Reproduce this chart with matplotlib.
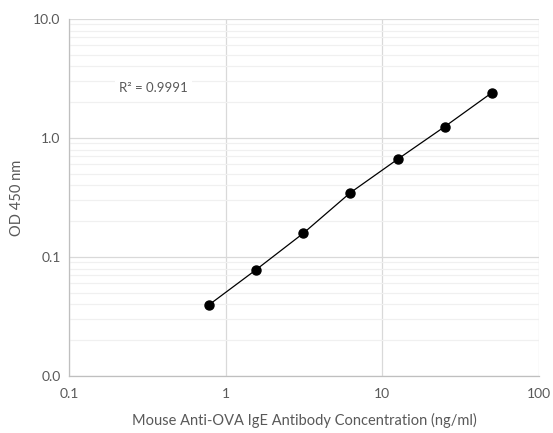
import matplotlib
matplotlib.use("Agg")
import matplotlib.pyplot as plt
from matplotlib.ticker import FixedLocator, FixedFormatter, NullFormatter
import numpy as np

# standard curve
conc_ng_ml = [0.78, 1.56, 3.125, 6.25, 12.5, 25, 50]
od_450 = [0.0395, 0.078, 0.158, 0.347, 0.662, 1.245, 2.40]
r_squared = "R² = 0.9991"

x_ticks = [0.1, 1, 10, 100]
x_labels = ["0.1", "1", "10", "100"]
y_ticks = [0.01, 0.1, 1, 10]
y_labels = ["0.0", "0.1", "1.0", "10.0"]

TEXT = "#595959"
plt.rcParams["font.family"] = ["Lato", "DejaVu Sans"]

fig = plt.figure(figsize=(5.53, 4.33), dpi=100)
ax = fig.add_axes([69 / 553, 1 - 376 / 433, 470 / 553, 357 / 433])
ax.set_xscale("log")
ax.set_yscale("log")
ax.set_xlim(0.1, 100)
ax.set_ylim(0.01, 10)

ax.xaxis.set_major_locator(FixedLocator(x_ticks))
ax.xaxis.set_major_formatter(FixedFormatter(x_labels))
ax.xaxis.set_minor_formatter(NullFormatter())
ax.xaxis.set_minor_locator(FixedLocator([]))
ax.yaxis.set_major_locator(FixedLocator(y_ticks))
ax.yaxis.set_major_formatter(FixedFormatter(y_labels))
minor_y = [m * d for d in (0.01, 0.1, 1) for m in range(2, 10)]
ax.yaxis.set_minor_locator(FixedLocator(minor_y))
ax.yaxis.set_minor_formatter(NullFormatter())

ax.grid(True, which="major", color="#d9d9d9", linewidth=0.9)
ax.grid(True, which="minor", axis="y", color="#f0f0f0", linewidth=0.9)
ax.set_axisbelow(True)
for s in ("top", "right"):
    ax.spines[s].set_visible(False)
for s in ("left", "bottom"):
    ax.spines[s].set_color("#bfbfbf")
    ax.spines[s].set_linewidth(0.9)
ax.tick_params(which="both", length=0, colors=TEXT, labelsize=10, pad=6)
ax.tick_params(axis="x", pad=9)

ax.plot(conc_ng_ml, od_450, color="black", linewidth=0.9, zorder=3)
ax.plot(conc_ng_ml, od_450, "o", color="black", markersize=6.5, zorder=4)

ax.text(0.345, 2.62, r_squared, ha="center", va="center", fontsize=9.5, color=TEXT,
        bbox=dict(facecolor="white", edgecolor="none", pad=3))

ax.set_ylabel("OD 450 nm", color=TEXT, fontsize=10.5, labelpad=7)
ax.set_xlabel("Mouse Anti-OVA IgE Antibody Concentration (ng/ml)", color=TEXT,
              fontsize=10.5, labelpad=9)

fig.savefig("out.png", dpi=100)
